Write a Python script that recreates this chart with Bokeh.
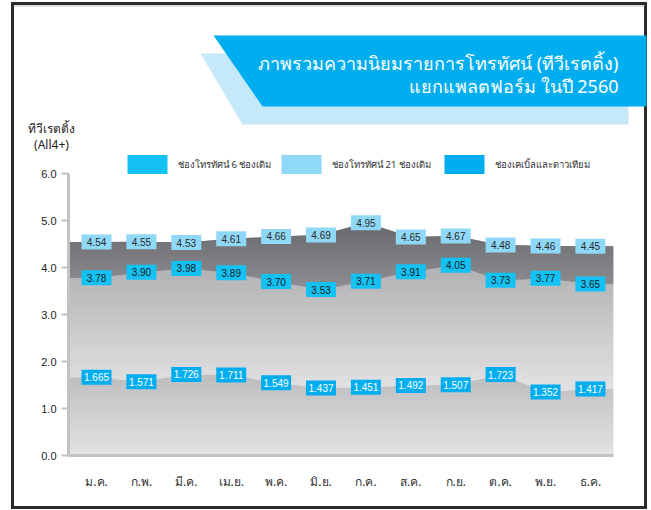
import numpy as np
from bokeh.plotting import figure
from bokeh.layouts import column, row
from bokeh.models import (Range1d, FixedTicker, PrintfTickFormatter, Legend, LegendItem)
from bokeh.core.properties import value
from bokeh.embed import file_html
from bokeh.resources import INLINE

# ---------------- data ----------------
months = ["ม.ค.", "ก.พ.", "มี.ค.", "เม.ย.", "พ.ค.", "มิ.ย.",
          "ก.ค.", "ส.ค.", "ก.ย.", "ต.ค.", "พ.ย.", "ธ.ค."]
cable_sat = [1.665, 1.571, 1.726, 1.711, 1.549, 1.437,
             1.451, 1.492, 1.507, 1.723, 1.352, 1.417]
tv6 = [3.78, 3.90, 3.98, 3.89, 3.70, 3.53, 3.71, 3.91, 4.05, 3.73, 3.77, 3.65]
tv21 = [4.54, 4.55, 4.53, 4.61, 4.66, 4.69, 4.95, 4.65, 4.67, 4.48, 4.46, 4.45]
y_ticks = [0, 1, 2, 3, 4, 5, 6]
legend_names = ["ช่องโทรทัศน์ 6 ช่องเดิม", "ช่องโทรทัศน์ 21 ช่องเดิม", "ช่องเคเบิ้ลและดาวเทียม"]
title_lines = ["ภาพรวมความนิยมรายการโทรทัศน์ (ทีวีเรตติ้ง)", "แยกแพลตฟอร์ม ในปี 2560"]
y_title = ["ทีวีเรตติ้ง", "(All4+)"]

# ---------------- styles ----------------
C_LIGHT = "#8fd8f7"
C_MID = "#14c1f3"
C_DEEP = "#00adef"
BORDER = "#2b2b2b"
THAI_FONT = "Noto Sans"
NUM_FONT = "Liberation Sans"

W, H = 651, 510
HEAD_H = 154
MAIN_H = H - HEAD_H

# ---------------- header ----------------
hd = figure(width=W, height=HEAD_H, x_range=Range1d(0, W), y_range=Range1d(HEAD_H, 0),
            output_backend="svg", toolbar_location=None, x_axis_type=None, y_axis_type=None,
            min_border=0, outline_line_color=None, background_fill_alpha=0,
            border_fill_alpha=0, title=None)
hd.grid.visible = False
hd.patch([200, 628, 628, 242], [53, 53, 124, 124], fill_color="#c6e9f9", line_color=None)
hd.patch([213, 646, 646, 262], [35, 35, 106, 106], fill_color="#00aeef", line_color=None)
hd.text([618, 618], [62, 85], text=title_lines, text_align="right", text_baseline="middle",
        text_font=value(THAI_FONT), text_font_size="18px", text_color="white")
hd.text([51, 51], [128, 144], text=y_title, text_align="center", text_baseline="middle",
        text_font=value(THAI_FONT), text_font_size="12px", text_color="#222222")
hd.segment([14], [5.5], [644], [5.5], line_color="#bdbdbd", line_width=1)

# ---------------- main chart ----------------
X_LO, X_HI = -0.624, 11.514
Y6_PX, Y0_PX = 173, 455
Y_TOP = 6 * (Y0_PX - HEAD_H) / (Y0_PX - Y6_PX)

p = figure(width=W, height=MAIN_H, x_range=Range1d(X_LO, X_HI), y_range=Range1d(0, Y_TOP),
           output_backend="svg", toolbar_location=None, title=None,
           min_border_left=68, min_border_right=W - 613,
           min_border_top=0, min_border_bottom=H - Y0_PX,
           background_fill_color="white", border_fill_alpha=0, outline_line_color=None)
p.grid.visible = False

p.xaxis.ticker = FixedTicker(ticks=list(range(len(months))))
p.xaxis.major_label_overrides = {i: m for i, m in enumerate(months)}
p.xaxis.major_tick_out = 0
p.xaxis.major_tick_in = 0
p.xaxis.minor_tick_line_color = None
p.xaxis.axis_line_color = "#c2c2c5"
p.xaxis.axis_line_width = 3
p.xaxis.major_label_standoff = 17
p.xaxis.major_label_text_font = THAI_FONT
p.xaxis.major_label_text_font_size = "12px"
p.xaxis.major_label_text_color = "#333333"

p.yaxis.ticker = FixedTicker(ticks=y_ticks)
p.yaxis.bounds = (0, 6)
p.yaxis.formatter = PrintfTickFormatter(format="%.1f")
p.yaxis.minor_tick_line_color = None
p.yaxis.axis_line_color = "#c2c2c5"
p.yaxis.axis_line_width = 3
p.yaxis.major_tick_line_color = "#c2c2c5"
p.yaxis.major_tick_line_width = 2
p.yaxis.major_tick_out = 7
p.yaxis.major_tick_in = 0
p.yaxis.major_label_standoff = 5
p.yaxis.major_label_text_font = NUM_FONT
p.yaxis.major_label_text_font_size = "11px"
p.yaxis.major_label_text_color = "#222222"


def hex2rgb(h):
    h = h.lstrip("#")
    return np.array([int(h[i:i + 2], 16) for i in (0, 2, 4)], dtype=float)


def mix(a, b, t):
    c = hex2rgb(a) * (1 - t) + hex2rgb(b) * t
    return "#%02x%02x%02x" % tuple(int(round(v)) for v in c)


xs = np.arange(len(months))
x_ext = np.concatenate([[X_LO], xs, [X_HI]])


def ext(v):
    v = list(v)
    return np.array([v[0]] + v + [v[-1]], dtype=float)


def gradient_area(lower, upper, c_lo, c_hi, y_lo, y_hi, n=24):
    p.varea(x_ext, lower, upper, fill_color=mix(c_lo, c_hi, 0.5), fill_alpha=1)
    edges = np.linspace(y_lo, y_hi, n + 1)
    edges[0] = -100.0
    edges[-1] = 100.0
    for k in range(n):
        a = np.clip(edges[k], lower, upper)
        b = np.clip(edges[k + 1], lower, upper)
        p.varea(x_ext, a, b, fill_color=mix(c_lo, c_hi, (k + 0.5) / n), fill_alpha=1)


s1 = ext(cable_sat)
s2 = ext(tv6)
s3 = ext(tv21)
zero = np.zeros_like(s1)

gradient_area(zero, s1, "#e4e4e6", "#bbbbbe", 0.0, 1.75)
gradient_area(s1, s2, "#e1e1e3", "#b3b3b6", 1.5, 3.9)
gradient_area(s2, s3, "#8e8e92", "#6c6c70", 3.6, 4.8)


def value_labels(vals, fill, txt_color, fmt):
    r = p.rect(xs, vals, width=30, height=15, width_units="screen", height_units="screen",
               fill_color=fill, line_color=None)
    p.text(xs, vals, text=[fmt % v for v in vals], text_align="center", text_baseline="middle",
           text_font=value(NUM_FONT), text_font_size="10px", text_color=txt_color)
    return r


r21 = value_labels(tv21, C_LIGHT, "#2a2a2a", "%.2f")
r6 = value_labels(tv6, C_MID, "#1a1a1a", "%.2f")
rcs = value_labels(cable_sat, C_DEEP, "white", "%.3f")

# legends (glyph area inset 10% -> 40x19 boxes)
leg_left_px = [122, 276, 439]
for name, r, lx in zip(legend_names, [r6, r21, rcs], leg_left_px):
    lg = Legend(items=[LegendItem(label=name, renderers=[r])],
                location=(lx - 68, Y0_PX - 176), orientation="horizontal",
                glyph_width=50, glyph_height=24, label_standoff=6, padding=0, margin=0,
                spacing=0, border_line_color=None, background_fill_alpha=0,
                label_text_font=THAI_FONT, label_text_font_size="9.5px",
                label_text_color="#333333", label_height=24)
    p.add_layout(lg)

# outer frame lines drawn as the page background behind the transparent figure borders
frame_bg = ", ".join([
    f"linear-gradient({BORDER},{BORDER}) 11px 2px / 636px 3px no-repeat",
    f"linear-gradient({BORDER},{BORDER}) 11px 2px / 3px 507px no-repeat",
    f"linear-gradient({BORDER},{BORDER}) 644px 2px / 3px 507px no-repeat",
    f"linear-gradient({BORDER},{BORDER}) 11px 506px / 636px 3px no-repeat",
    "white",
])

layout = column(hd, row(p, spacing=0), spacing=0, styles={"background": frame_bg})
open("out.html", "w").write(file_html(layout, INLINE))
